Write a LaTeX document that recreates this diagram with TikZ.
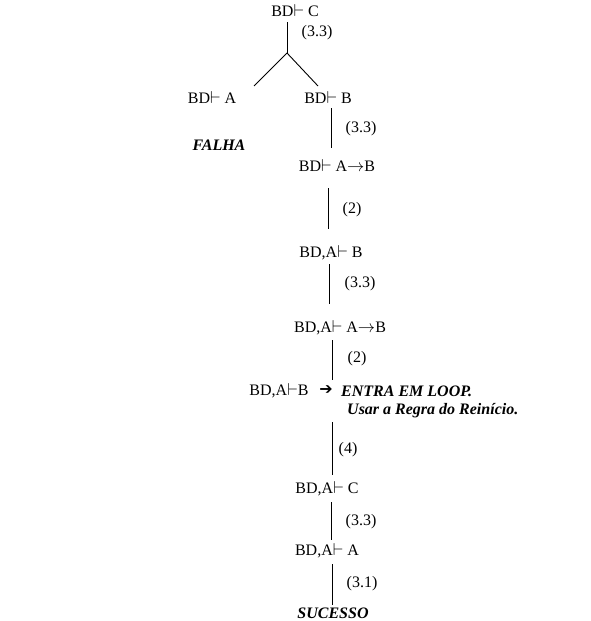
\documentclass[tikz,border=0pt]{standalone}
\usepackage{fontspec}
\setmainfont{Liberation Serif}
\newfontfamily\symfont{DejaVu Sans}
\newcommand{\tstile}{\ensuremath{\vdash}}
\newcommand{\rarr}{\ensuremath{\rightarrow}}
\tikzset{
  txt/.style={font=\fontsize{16}{18}\selectfont, inner sep=0pt},
  rule/.style={font=\fontsize{16}{18}\selectfont, inner sep=0pt},
  emph/.style={font=\fontsize{16}{18}\selectfont\bfseries\itshape, inner sep=0pt},
  conn/.style={draw=black, line width=0.9pt}
}
\begin{document}
\begin{tikzpicture}[x=1pt,y=-1pt]
\useasboundingbox[fill=white] (0,0) rectangle (591,621);
% nodes
\node[txt] (n1) at (295,11) {BD\tstile\ C};
\node[rule] (r1) at (317,33) {(3.3)};
\node[txt] (n2a) at (212,98) {BD\tstile\ A};
\node[txt] (n2b) at (328,98) {BD\tstile\ B};
\node[emph] (fail) at (219,145) {FALHA};
\node[rule] (r2) at (361,129) {(3.3)};
\node[txt] (n3) at (337,166) {BD\tstile\ A\rarr B};
\node[rule] (r3) at (352,210) {(2)};
\node[txt] (n4) at (331,253) {BD,A\tstile\ B};
\node[rule] (r4) at (360,284) {(3.3)};
\node[txt] (n5) at (340,328) {BD,A\tstile\ A\rarr B};
\node[rule] (r5) at (357,359) {(2)};
\node[txt] (n6) at (279,391) {BD,A\tstile B};
\node[inner sep=0pt, font=\symfont\bfseries\fontsize{16}{18}\selectfont] (arr) at (326,390) {➔};
\node[emph, anchor=west] (loop) at (341,391) {ENTRA EM LOOP.};
\node[emph, anchor=west] (reg) at (347,411) {Usar a Regra do Reinício.};
\node[rule] (r6) at (348,450) {(4)};
\node[txt] (n7) at (327,489) {BD,A\tstile\ C};
\node[rule] (r7) at (361,522) {(3.3)};
\node[txt] (n8) at (327,551) {BD,A\tstile\ A};
\node[rule] (r8) at (362,584) {(3.1)};
\node[emph] (succ) at (333,613) {SUCESSO};
% connector end points
\coordinate (a1) at (287,22);
\coordinate (fork) at (287,53);
\coordinate (fl) at (254,86);
\coordinate (fr) at (318,86);
\coordinate (b1) at (331,108);
\coordinate (b2) at (331,148);
\coordinate (c1) at (328,188);
\coordinate (c2) at (328,229);
\coordinate (d1) at (329,264);
\coordinate (d2) at (329,304);
\coordinate (e1) at (332,340);
\coordinate (e2) at (332,380);
\coordinate (f1) at (332,422);
\coordinate (f2) at (332,475);
\coordinate (g1) at (331,502);
\coordinate (g2) at (331,540);
\coordinate (h1) at (332,564);
\coordinate (h2) at (332,605);
% connectors
\draw[conn] (a1) -- (fork);
\draw[conn] (fork) -- (fl);
\draw[conn] (fork) -- (fr);
\draw[conn] (b1) -- (b2);
\draw[conn] (c1) -- (c2);
\draw[conn] (d1) -- (d2);
\draw[conn] (e1) -- (e2);
\draw[conn] (f1) -- (f2);
\draw[conn] (g1) -- (g2);
\draw[conn] (h1) -- (h2);
\end{tikzpicture}
\end{document}
